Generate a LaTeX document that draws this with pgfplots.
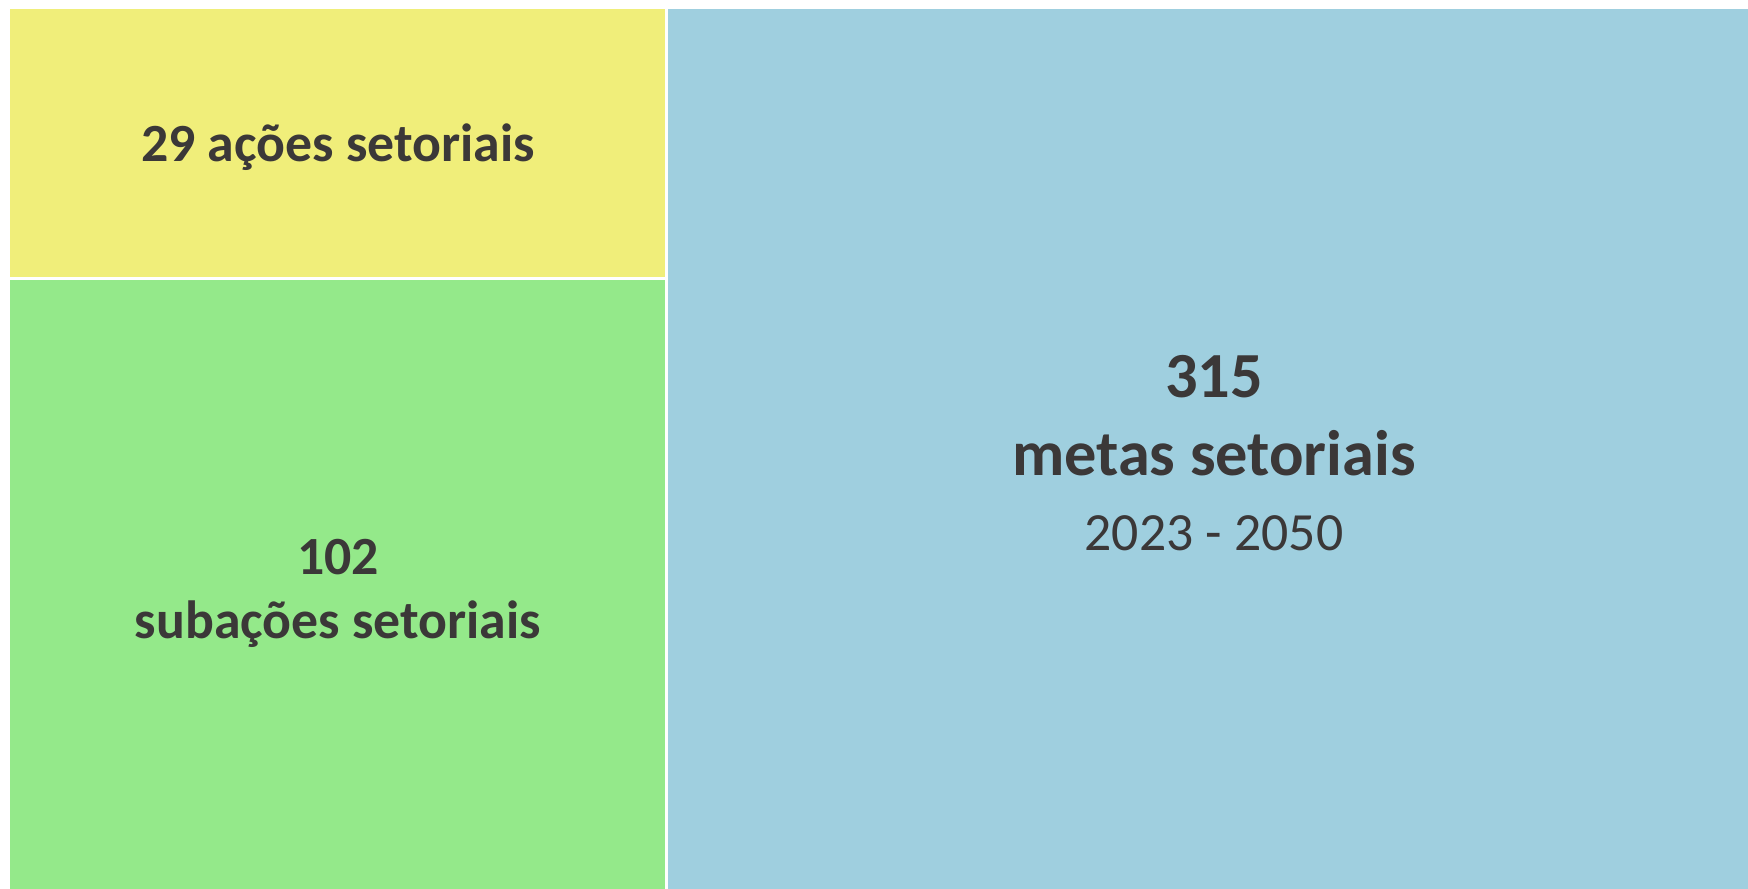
\documentclass[border=0pt]{standalone}
\usepackage{fontspec}
\setmainfont{Carlito}
\usepackage{pgfplots}
\pgfplotsset{compat=1.18}
\definecolor{cyellow}{HTML}{F0EE7A}
\definecolor{cgreen}{HTML}{94E98A}
\definecolor{cblue}{HTML}{9FCFDF}
\definecolor{ctext}{HTML}{3B3838}
\begin{document}
\begin{tikzpicture}
\begin{axis}[
  scale only axis, width=17.48cm, height=8.89cm,
  xmin=0, xmax=1748, ymin=0, ymax=889,
  hide axis, clip=false,
]
% background extent
\addplot[draw=none, fill=white] coordinates {(0,0) (1748,0) (1748,889) (0,889)} -- cycle;
% 29 ações setoriais
\addplot[draw=none, fill=cyellow] coordinates {(10,612) (665,612) (665,880) (10,880)} -- cycle;
% 102 subações setoriais
\addplot[draw=none, fill=cgreen] coordinates {(10,0) (665,0) (665,609) (10,609)} -- cycle;
% 315 metas setoriais
\addplot[draw=none, fill=cblue] coordinates {(668,0) (1748,0) (1748,880) (668,880)} -- cycle;

\node[anchor=base, text=ctext, font=\fontsize{15.3pt}{18pt}\selectfont\bfseries] at (axis cs:338,727) {29 ações setoriais};
\node[anchor=base, text=ctext, font=\fontsize{15.3pt}{18pt}\selectfont\bfseries] at (axis cs:338,314) {102};
\node[anchor=base, text=ctext, font=\fontsize{15.3pt}{18pt}\selectfont\bfseries] at (axis cs:338,250) {subações setoriais};
\node[anchor=base, text=ctext, font=\fontsize{18.3pt}{22pt}\selectfont\bfseries] at (axis cs:1214,491) {315};
\node[anchor=base, text=ctext, font=\fontsize{18.3pt}{22pt}\selectfont\bfseries] at (axis cs:1214,413) {metas setoriais};
\node[anchor=base, text=ctext, font=\fontsize{15.3pt}{18pt}\selectfont] at (axis cs:1214,338) {2023 - 2050};
\end{axis}
\end{tikzpicture}
\end{document}
